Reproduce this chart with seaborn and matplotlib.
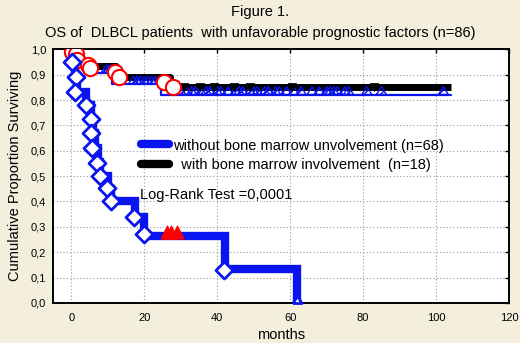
import numpy as np
import pandas as pd
import matplotlib
matplotlib.use("Agg")
import matplotlib.pyplot as plt
from matplotlib.lines import Line2D
import seaborn as sns

sns.set_style("white")
plt.rcParams['font.family'] = ['Liberation Sans', 'DejaVu Sans']
plt.rcParams['text.color'] = 'black'
plt.rcParams['axes.labelcolor'] = 'black'
plt.rcParams['xtick.color'] = 'black'
plt.rcParams['ytick.color'] = 'black'

# group plotted low (thick blue step), event times (months) and survival
low_t = [0, 0.3, 1.0, 1.5, 4.0, 5.5, 6.0, 6.5, 7.2, 7.9, 10.0, 11.0, 17.5, 20.0, 42.0, 62.0]
low_s = [1.0, 0.95, 0.89, 0.83, 0.78, 0.725, 0.67, 0.61, 0.555, 0.50, 0.45, 0.40, 0.34, 0.265, 0.135, 0.0]
# diamonds on the low curve (complete observations)
low_evt_t = [0.3, 1.2, 0.9, 3.9, 5.5, 5.3, 5.75, 7.1, 7.8, 9.9, 10.8, 17.2, 19.9, 41.8]
low_evt_s = [0.95, 0.89, 0.83, 0.78, 0.725, 0.67, 0.61, 0.553, 0.50, 0.453, 0.40, 0.34, 0.27, 0.13]
low_cens_t = [62.0]
low_cens_s = [0.0]

# upper group: thick black step and thin blue step
blk_t = [0, 0.5, 1.5, 3.0, 5.0, 12.2, 27.0, 104.0]
blk_s = [1.0, 0.98, 0.965, 0.95, 0.933, 0.89, 0.852, 0.852]
thin_t = [0, 0.5, 1.5, 3.0, 5.3, 11.2, 24.5, 104.0]
thin_s = [1.0, 0.975, 0.955, 0.935, 0.907, 0.863, 0.822, 0.822]
# red circles (events on the upper curve)
red_t = [0.2, 1.2, 1.7, 4.5, 5.0, 12.1, 13.0, 25.3, 28.0]
red_s = [0.99, 0.98, 0.96, 0.94, 0.925, 0.91, 0.89, 0.87, 0.85]
# censored (blue open triangles) on the thin curve
cens_t = [9.5, 10.2, 10.8, 17, 18, 19, 20, 21, 22, 23,
          30, 31.5, 33, 34, 35.5, 37, 38, 40, 41, 43, 45, 46, 47, 49, 50, 51,
          53, 54, 56, 57, 59, 61, 63, 66, 68, 70, 71, 72, 73, 75, 76, 81, 85, 102]
# black down triangles on the black curve
bcen_t = [31, 35.4, 39, 44.5, 49, 60.6, 83]
# red filled triangles
rtri_t = [26.3, 27.2, 29.0]
rtri_s = [0.28, 0.28, 0.28]


def step_at(ts, ss, x):
    i = np.searchsorted(ts, x, side="right") - 1
    return np.asarray(ss)[i]


cens_s = step_at(thin_t, thin_s, cens_t)
bcen_s = step_at(blk_t, blk_s, bcen_t)

blue = "#0a14f0"

fig = plt.figure(figsize=(5.2, 3.43), dpi=100, facecolor="#f4efdd")
ax = fig.add_axes([0.102, 0.117, 0.877, 0.739])
ax.set_facecolor("white")

sns.lineplot(x=blk_t, y=blk_s, ax=ax, color="black", lw=5, drawstyle="steps-post",
             solid_capstyle="butt", sort=False, zorder=3)
sns.lineplot(x=thin_t, y=thin_s, ax=ax, color=blue, lw=1.6, drawstyle="steps-post",
             sort=False, zorder=4)
sns.lineplot(x=low_t, y=low_s, ax=ax, color=blue, lw=6, drawstyle="steps-post",
             solid_joinstyle="miter", sort=False, zorder=5)

tri_up = [(-1, 0), (1, 0), (0, 1.6), (-1, 0)]
sns.scatterplot(x=cens_t, y=cens_s, ax=ax, marker=tri_up, s=130, facecolor="none",
                edgecolor=blue, linewidth=1.0, hatch="////", zorder=6)
sns.scatterplot(x=bcen_t, y=bcen_s, ax=ax, marker="v", s=35, color="black",
                edgecolor="black", zorder=6)
sns.scatterplot(x=red_t, y=red_s, ax=ax, marker="o", s=120, facecolor="white",
                edgecolor="red", linewidth=1.5, zorder=7)
sns.scatterplot(x=low_evt_t, y=low_evt_s, ax=ax, marker="D", s=75, facecolor="white",
                edgecolor=blue, linewidth=2, zorder=7)
sns.scatterplot(x=low_cens_t, y=low_cens_s, ax=ax, marker=tri_up, s=110, facecolor="white",
                edgecolor=blue, linewidth=2, zorder=7, clip_on=False)
sns.scatterplot(x=rtri_t, y=rtri_s, ax=ax, marker="^", s=90, color="red",
                edgecolor="red", zorder=7)

ax.set_xlim(-5, 120)
ax.set_ylim(0, 1.0)
ax.set_xticks(np.arange(0, 121, 20))
ax.set_yticks(np.round(np.arange(0, 1.01, 0.1), 1))
ax.set_xticklabels([str(v) for v in range(0, 121, 20)], fontsize=8)
ax.set_yticklabels([f"{v:.1f}".replace(".", ",") for v in np.arange(0, 1.01, 0.1)], fontsize=8)
ax.grid(True, color="#9a9a9a", ls=(0, (1, 2)), lw=0.8)
ax.tick_params(axis="both", which="both", top=True, right=True, direction="in", length=3,
               width=1, color="black")
ax.tick_params(axis="y", pad=5)
ax.tick_params(axis="x", pad=7)
for sp in ax.spines.values():
    sp.set_color("black")
    sp.set_linewidth(1.4)

ax.set_xlabel("months", fontsize=10.5, labelpad=4)
ax.set_ylabel("Cumulative Proportion Surviving", fontsize=10.5, labelpad=6)

handles = [Line2D([], [], color=blue, lw=6, solid_capstyle="round"),
           Line2D([], [], color="black", lw=6, solid_capstyle="round")]
ax.legend(handles, ["without bone marrow unvolvement (n=68)",
                    "  with bone marrow involvement  (n=18)"],
          loc="upper left", bbox_to_anchor=(0.165, 0.70), frameon=False, fontsize=10.5,
          handlelength=1.9, handletextpad=0.3, labelspacing=0.35)
ax.text(0.19, 0.425, "Log-Rank Test =0,0001", transform=ax.transAxes, fontsize=10.5,
        va="center", ha="left")

fig.text(0.5, 0.965, "Figure 1.", ha="center", va="center", fontsize=10.5)
fig.text(0.5, 0.905, "OS of  DLBCL patients  with unfavorable prognostic factors (n=86)",
         ha="center", va="center", fontsize=10.5)

fig.savefig("out.png", dpi=100, facecolor=fig.get_facecolor())
